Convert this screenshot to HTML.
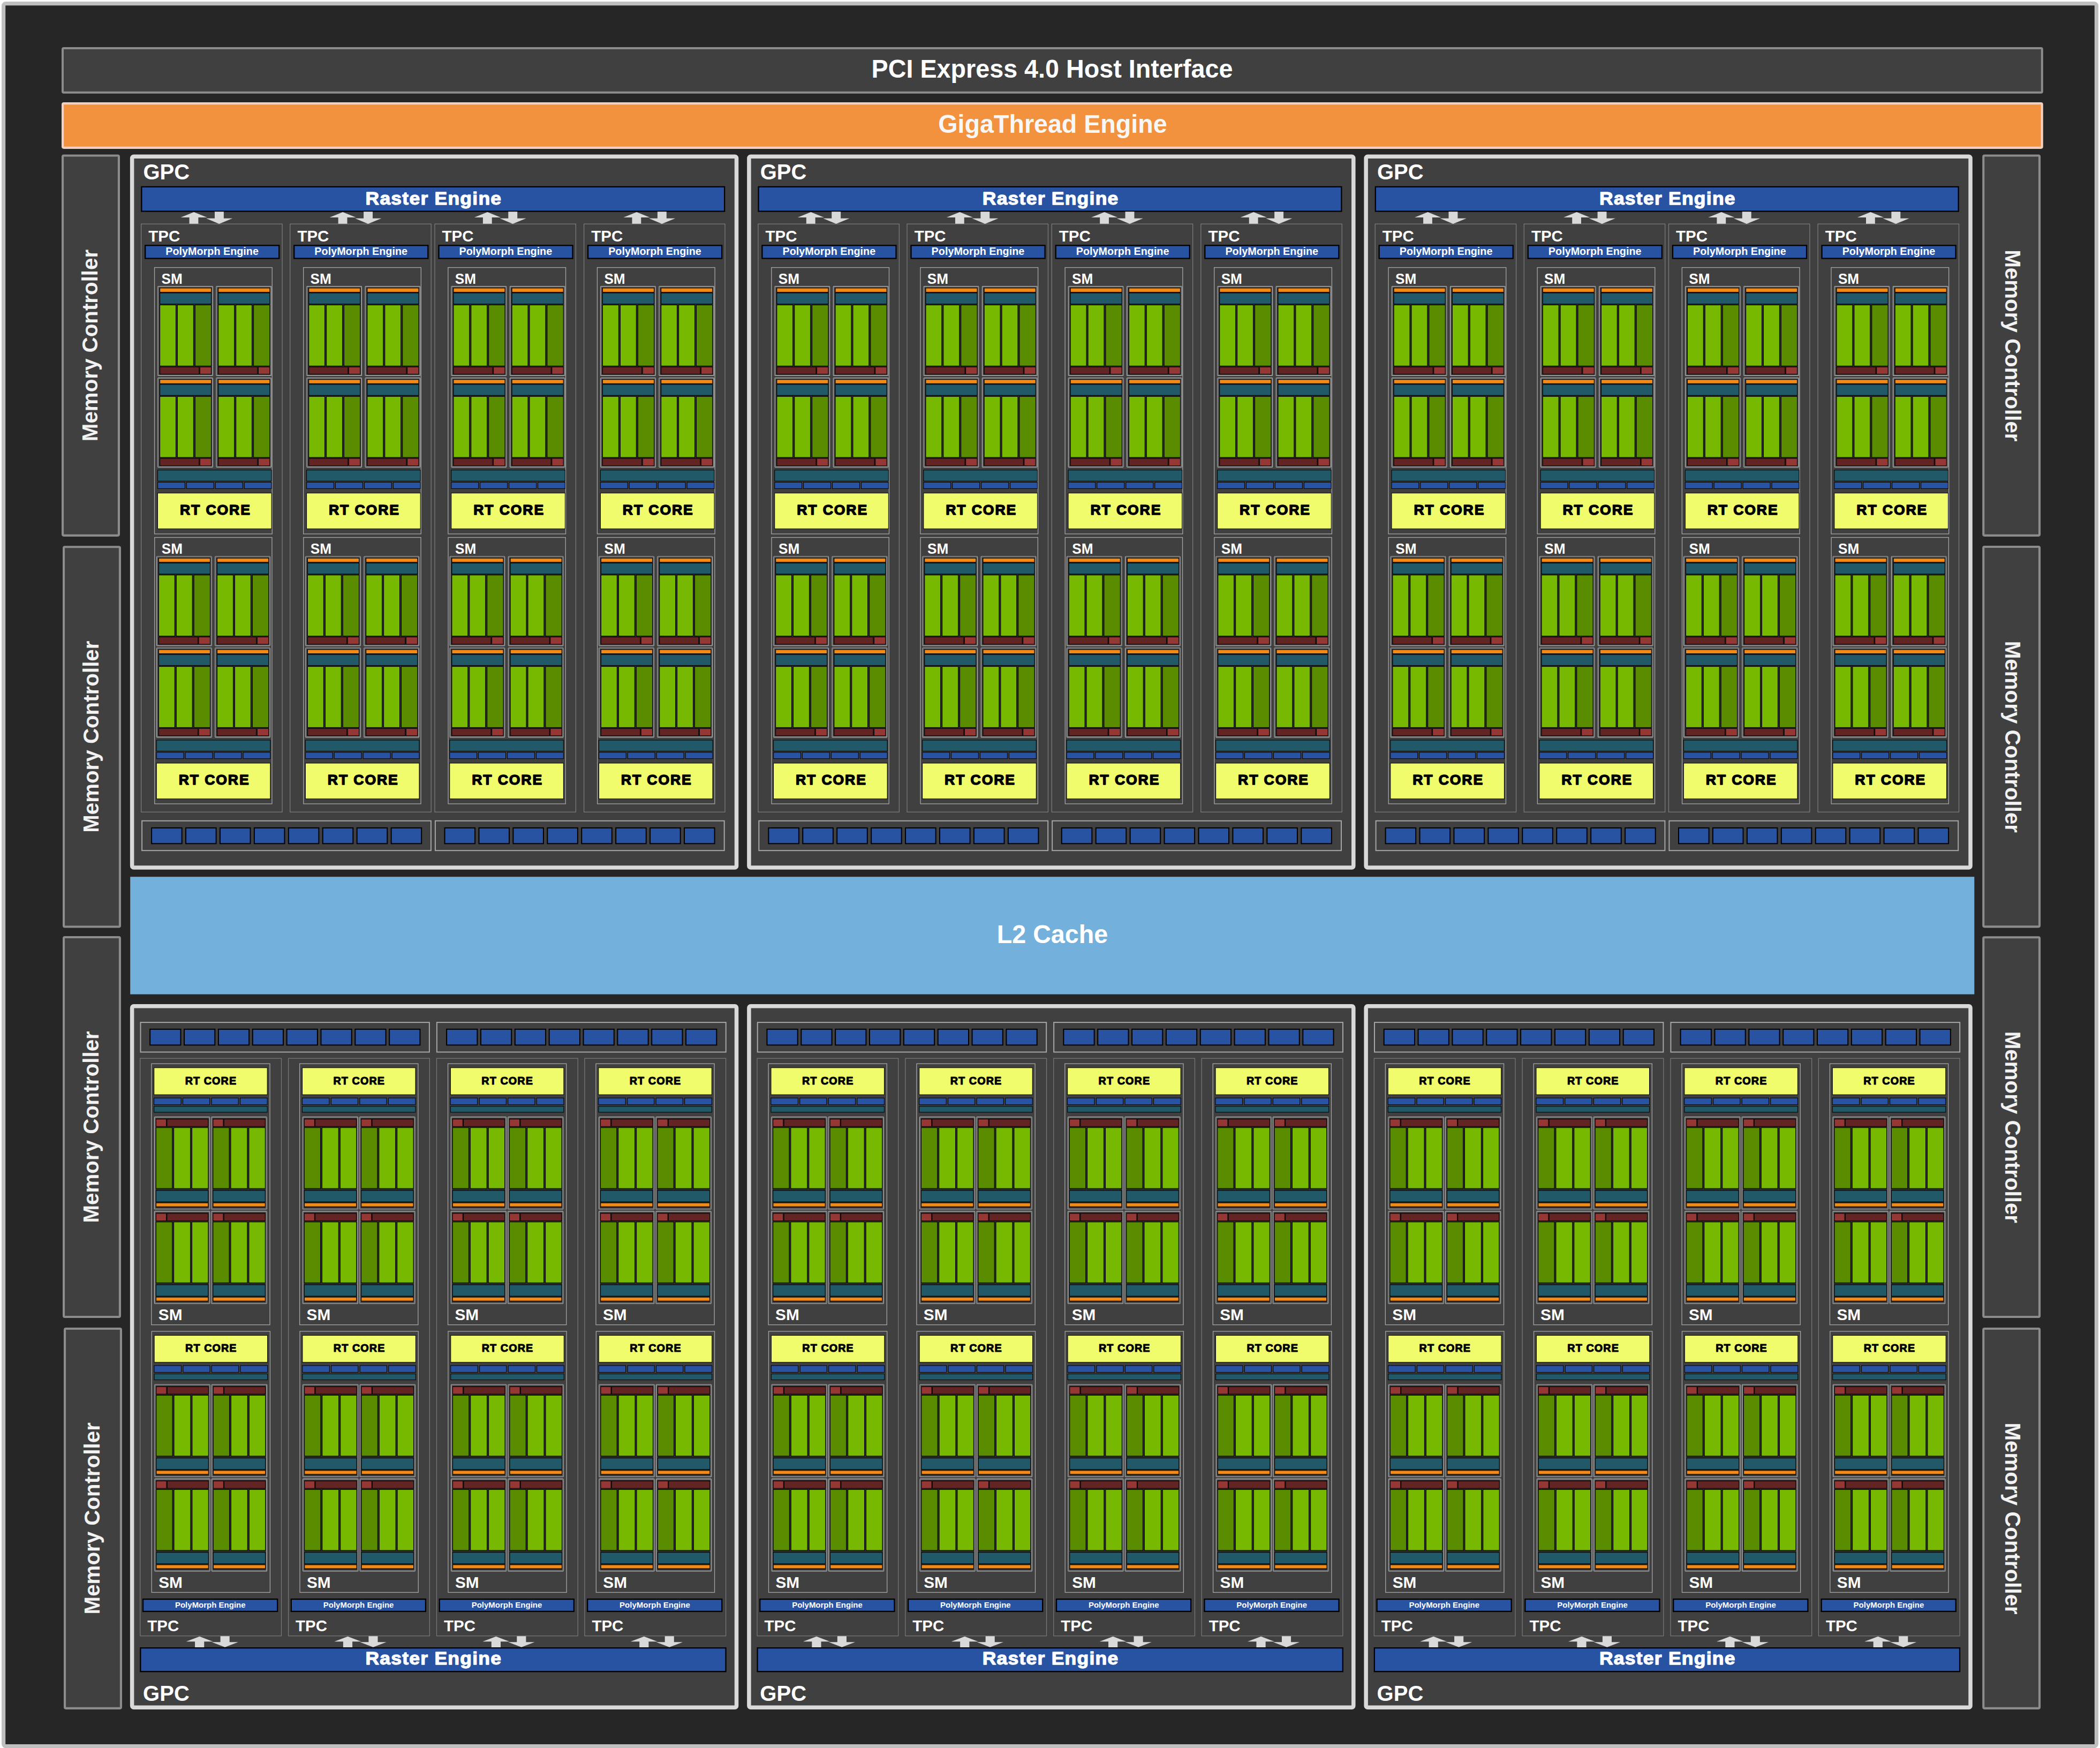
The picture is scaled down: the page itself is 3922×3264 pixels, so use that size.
<!DOCTYPE html>
<html><head><meta charset="utf-8"><title>GPU Block Diagram</title>
<style>html,body{margin:0;padding:0;background:#fff;overflow:hidden}svg{display:block}text{font-family:"Liberation Sans",sans-serif}</style></head>
<body>
<svg width="3922" height="3264" viewBox="0 0 3922 3264" font-family="Liberation Sans, sans-serif">
<defs>
<g id="sbt"><rect x="0.55" y="0.55" width="102.7" height="166.9" fill="#2c2c2c" stroke="#b0b0b0" stroke-width="1.1" rx="1"/><rect x="1.8" y="1.8" width="100.2" height="164.4" fill="none" stroke="#727272" stroke-width="1.4"/><rect x="4.4" y="3.8" width="96.1" height="7.6" fill="#f28a15" stroke="#000" stroke-width="1"/><rect x="4.4" y="13" width="96.1" height="20.4" fill="#215968" stroke="#000" stroke-width="1"/><rect x="4.4" y="35.4" width="29.9" height="113.8" fill="#76b900" stroke="#000" stroke-width="1"/><rect x="37.3" y="35.4" width="29.9" height="113.8" fill="#76b900" stroke="#000" stroke-width="1"/><rect x="70.2" y="35.4" width="30.3" height="113.8" fill="#5a8c00" stroke="#000" stroke-width="1"/><rect x="4.4" y="151.1" width="73.1" height="13.5" fill="#632523" stroke="#000" stroke-width="1"/><rect x="79.1" y="151.1" width="21.4" height="13.5" fill="#953735" stroke="#000" stroke-width="1"/></g>
<g id="sbb"><rect x="0.55" y="0.55" width="103.3" height="172.5" fill="#2c2c2c" stroke="#b0b0b0" stroke-width="1.1" rx="1"/><rect x="1.8" y="1.8" width="100.8" height="170" fill="none" stroke="#727272" stroke-width="1.4"/><rect x="3.55" y="4.7" width="19.15" height="13.7" fill="#953735" stroke="#000" stroke-width="1"/><rect x="24" y="4.7" width="77" height="13.7" fill="#632523" stroke="#000" stroke-width="1"/><rect x="3.55" y="20.7" width="30.25" height="113.5" fill="#5a8c00" stroke="#000" stroke-width="1"/><rect x="36.7" y="20.7" width="30.9" height="113.5" fill="#76b900" stroke="#000" stroke-width="1"/><rect x="70.6" y="20.7" width="30.4" height="113.5" fill="#76b900" stroke="#000" stroke-width="1"/><rect x="3.55" y="137.9" width="97.45" height="21.2" fill="#215968" stroke="#000" stroke-width="1"/><rect x="3.7" y="161.1" width="97.3" height="7.1" fill="#f28a15" stroke="#000" stroke-width="1"/></g>
<g id="smti"><use href="#sbt" x="6.3" y="35.2"/><use href="#sbt" x="115.5" y="35.2"/><use href="#sbt" x="6.3" y="206"/><use href="#sbt" x="115.5" y="206"/><rect x="6.6" y="378.8" width="212.6" height="20.6" fill="#215968" stroke="#000" stroke-width="1"/><rect x="6.6" y="401.6" width="50.8" height="11.9" fill="#2853a3" stroke="#000" stroke-width="1"/><rect x="60.4" y="401.6" width="50.9" height="11.9" fill="#2853a3" stroke="#000" stroke-width="1"/><rect x="114.4" y="401.6" width="50.9" height="11.9" fill="#2853a3" stroke="#000" stroke-width="1"/><rect x="168.4" y="401.6" width="50.8" height="11.9" fill="#2853a3" stroke="#000" stroke-width="1"/><rect x="6.6" y="421.8" width="212.6" height="66.7" fill="#f0fc6c" stroke="#000" stroke-width="1"/><text x="113.5" y="462.3" font-size="26.6" font-weight="bold" fill="#000" text-anchor="middle" stroke="#000" stroke-width="1.5" stroke-linejoin="round" textLength="131" lengthAdjust="spacing">RT CORE</text></g>
<g id="smt1"><rect x="0.65" y="0.65" width="219.7" height="497.4" fill="none" stroke="#a6a6a6" stroke-width="1.3"/><text x="13.6" y="30.8" font-size="27.3" font-weight="bold" fill="#fff" text-anchor="start" textLength="39.3" lengthAdjust="spacingAndGlyphs">SM</text><use href="#smti" x="0" y="0"/></g>
<g id="smt2a"><rect x="0.85" y="0.65" width="219.2" height="497.4" fill="none" stroke="#a6a6a6" stroke-width="1.3"/><text x="13.8" y="30.8" font-size="27.3" font-weight="bold" fill="#fff" text-anchor="start" textLength="39.3" lengthAdjust="spacingAndGlyphs">SM</text><use href="#smti" x="-2.2" y="0.3"/></g>
<g id="smt2b"><rect x="0.85" y="0.65" width="219.2" height="497.4" fill="none" stroke="#a6a6a6" stroke-width="1.3"/><text x="13.8" y="30.8" font-size="27.3" font-weight="bold" fill="#fff" text-anchor="start" textLength="39.3" lengthAdjust="spacingAndGlyphs">SM</text><use href="#smti" x="-3" y="0.3"/></g>
<g id="smb"><rect x="0.65" y="0.65" width="221.2" height="487.5" fill="none" stroke="#a6a6a6" stroke-width="1.3"/><rect x="5.5" y="8.2" width="211.5" height="50.3" fill="#f0fc6c" stroke="#000" stroke-width="1"/><text x="111.2" y="39.1" font-size="19.8" font-weight="bold" fill="#000" text-anchor="middle" stroke="#000" stroke-width="1.1" stroke-linejoin="round" textLength="95.5" lengthAdjust="spacing">RT CORE</text><rect x="5.4" y="64.6" width="50.5" height="12.6" fill="#2853a3" stroke="#000" stroke-width="1"/><rect x="59.4" y="64.6" width="50" height="12.6" fill="#2853a3" stroke="#000" stroke-width="1"/><rect x="112.9" y="64.6" width="50.1" height="12.6" fill="#2853a3" stroke="#000" stroke-width="1"/><rect x="166.4" y="64.6" width="50.6" height="12.6" fill="#2853a3" stroke="#000" stroke-width="1"/><rect x="5.5" y="80.2" width="211.5" height="11.1" fill="#215968" stroke="#000" stroke-width="1"/><use href="#sbb" x="5.7" y="99.4"/><use href="#sbb" x="112.1" y="99.4"/><use href="#sbb" x="5.7" y="275.5"/><use href="#sbb" x="112.1" y="275.5"/><text x="13.6" y="479.4" font-size="29.8" font-weight="bold" fill="#fff" text-anchor="start">SM</text></g>
<g id="arrt"><path d="M99 0.8 L123.6 10.7 L107.3 10.7 L107.3 22.6 L90.5 22.6 L90.5 10.7 L74.4 10.7 Z" fill="#d9d9d9"/><path d="M137.9 0 L154.8 0 L154.8 12.6 L171.2 12.6 L146.2 22.7 L121.9 12.6 L137.9 12.6 Z" fill="#d9d9d9"/></g>
<g id="arrb"><path d="M111.5 0.8 L136.5 10.4 L120.1 10.4 L120.1 22 L102.9 22 L102.9 10.4 L86.4 10.4 Z" fill="#d9d9d9"/><path d="M150.4 0.3 L167.5 0.3 L167.5 11.4 L183.6 11.4 L158.9 20.9 L134.2 11.4 L150.4 11.4 Z" fill="#d9d9d9"/></g>
<g id="tpta"><rect x="0.6" y="0.6" width="263.4" height="1098.1" fill="none" stroke="#7f7f7f" stroke-width="1.2"/><text x="14.2" y="33.8" font-size="30" font-weight="bold" fill="#fff" text-anchor="start" textLength="59" lengthAdjust="spacingAndGlyphs">TPC</text><rect x="8.05" y="40.65" width="250.1" height="24.3" fill="#2853a3" stroke="#000" stroke-width="2.3"/><text x="133" y="58.1" font-size="19.8" font-weight="bold" fill="#fff" text-anchor="middle">PolyMorph Engine</text><use href="#smt1" x="24.8" y="81.3"/><use href="#smt2a" x="24.8" y="585.3"/></g>
<g id="tptb"><rect x="0.6" y="0.6" width="263.4" height="1098.1" fill="none" stroke="#7f7f7f" stroke-width="1.2"/><text x="14.2" y="33.8" font-size="30" font-weight="bold" fill="#fff" text-anchor="start" textLength="59" lengthAdjust="spacingAndGlyphs">TPC</text><rect x="8.05" y="40.65" width="250.1" height="24.3" fill="#2853a3" stroke="#000" stroke-width="2.3"/><text x="133" y="58.1" font-size="19.8" font-weight="bold" fill="#fff" text-anchor="middle">PolyMorph Engine</text><use href="#smt1" x="24.8" y="81.3"/><use href="#smt2b" x="24.8" y="585.3"/></g>
<g id="tpb"><rect x="0.6" y="0.6" width="263.7" height="1078.5" fill="none" stroke="#7a7a7a" stroke-width="1.2"/><use href="#smb" x="21" y="10"/><use href="#smb" x="21.4" y="509.7"/><rect x="5.85" y="1010.45" width="251.1" height="22.9" fill="#2853a3" stroke="#000" stroke-width="2.3"/><text x="131.6" y="1026.7" font-size="15" font-weight="bold" fill="#fff" text-anchor="middle">PolyMorph Engine</text><text x="14.1" y="1070.1" font-size="30" font-weight="bold" fill="#fff" text-anchor="start" textLength="59" lengthAdjust="spacingAndGlyphs">TPC</text></g>
<g id="gpt"><rect x="3.75" y="3.75" width="1128.9" height="1327.8" fill="#404040" stroke="#d9d9d9" stroke-width="7.5" rx="3"/><text x="24.6" y="46.6" font-size="40" font-weight="bold" fill="#fff" text-anchor="start">GPC</text><rect x="21.45" y="60.45" width="1088.8" height="45.7" fill="#2853a3" stroke="#000" stroke-width="2.3"/><text transform="translate(567,93.2) scale(1.076,1)" font-size="33" font-weight="bold" fill="#fff" stroke="#fff" stroke-width="1.25" stroke-linejoin="round" text-anchor="middle" letter-spacing="1.15">Raster Engine</text><use href="#tpta" x="20.2" y="129.2"/><use href="#arrt" x="20.2" y="106.8"/><use href="#tpta" x="298.3" y="129.2"/><use href="#arrt" x="298.3" y="106.8"/><use href="#tptb" x="568.5" y="129.2"/><use href="#arrt" x="568.5" y="106.8"/><use href="#tptb" x="847.1" y="129.2"/><use href="#arrt" x="847.1" y="106.8"/><rect x="22.2" y="1244.3" width="539.8" height="55.5" fill="none" stroke="#a6a6a6" stroke-width="2"/><rect x="40.2" y="1257.5" width="56.6" height="29.4" fill="#2853a3" stroke="#000" stroke-width="2"/><rect x="104.13" y="1257.5" width="56.6" height="29.4" fill="#2853a3" stroke="#000" stroke-width="2"/><rect x="168.06" y="1257.5" width="56.6" height="29.4" fill="#2853a3" stroke="#000" stroke-width="2"/><rect x="231.99" y="1257.5" width="56.6" height="29.4" fill="#2853a3" stroke="#000" stroke-width="2"/><rect x="295.92" y="1257.5" width="56.6" height="29.4" fill="#2853a3" stroke="#000" stroke-width="2"/><rect x="359.85" y="1257.5" width="56.6" height="29.4" fill="#2853a3" stroke="#000" stroke-width="2"/><rect x="423.78" y="1257.5" width="56.6" height="29.4" fill="#2853a3" stroke="#000" stroke-width="2"/><rect x="487.71" y="1257.5" width="56.6" height="29.4" fill="#2853a3" stroke="#000" stroke-width="2"/><rect x="570" y="1244.3" width="539.8" height="55.5" fill="none" stroke="#a6a6a6" stroke-width="2"/><rect x="587.6" y="1257.5" width="56.6" height="29.4" fill="#2853a3" stroke="#000" stroke-width="2"/><rect x="651.53" y="1257.5" width="56.6" height="29.4" fill="#2853a3" stroke="#000" stroke-width="2"/><rect x="715.46" y="1257.5" width="56.6" height="29.4" fill="#2853a3" stroke="#000" stroke-width="2"/><rect x="779.39" y="1257.5" width="56.6" height="29.4" fill="#2853a3" stroke="#000" stroke-width="2"/><rect x="843.32" y="1257.5" width="56.6" height="29.4" fill="#2853a3" stroke="#000" stroke-width="2"/><rect x="907.25" y="1257.5" width="56.6" height="29.4" fill="#2853a3" stroke="#000" stroke-width="2"/><rect x="971.18" y="1257.5" width="56.6" height="29.4" fill="#2853a3" stroke="#000" stroke-width="2"/><rect x="1035.11" y="1257.5" width="56.6" height="29.4" fill="#2853a3" stroke="#000" stroke-width="2"/></g>
<g id="gpb"><rect x="3.75" y="3.75" width="1128.9" height="1309.4" fill="#404040" stroke="#d9d9d9" stroke-width="7.5" rx="3"/><rect x="19.6" y="34.1" width="539.4" height="55.4" fill="none" stroke="#a6a6a6" stroke-width="2"/><rect x="37.3" y="46.8" width="57.3" height="29.6" fill="#2853a3" stroke="#000" stroke-width="2"/><rect x="101.15" y="46.8" width="57.3" height="29.6" fill="#2853a3" stroke="#000" stroke-width="2"/><rect x="165" y="46.8" width="57.3" height="29.6" fill="#2853a3" stroke="#000" stroke-width="2"/><rect x="228.85" y="46.8" width="57.3" height="29.6" fill="#2853a3" stroke="#000" stroke-width="2"/><rect x="292.7" y="46.8" width="57.3" height="29.6" fill="#2853a3" stroke="#000" stroke-width="2"/><rect x="356.55" y="46.8" width="57.3" height="29.6" fill="#2853a3" stroke="#000" stroke-width="2"/><rect x="420.4" y="46.8" width="57.3" height="29.6" fill="#2853a3" stroke="#000" stroke-width="2"/><rect x="484.25" y="46.8" width="57.3" height="29.6" fill="#2853a3" stroke="#000" stroke-width="2"/><rect x="573" y="34.1" width="539.8" height="55.4" fill="none" stroke="#a6a6a6" stroke-width="2"/><rect x="591.2" y="46.8" width="57.3" height="29.6" fill="#2853a3" stroke="#000" stroke-width="2"/><rect x="655.05" y="46.8" width="57.3" height="29.6" fill="#2853a3" stroke="#000" stroke-width="2"/><rect x="718.9" y="46.8" width="57.3" height="29.6" fill="#2853a3" stroke="#000" stroke-width="2"/><rect x="782.75" y="46.8" width="57.3" height="29.6" fill="#2853a3" stroke="#000" stroke-width="2"/><rect x="846.6" y="46.8" width="57.3" height="29.6" fill="#2853a3" stroke="#000" stroke-width="2"/><rect x="910.45" y="46.8" width="57.3" height="29.6" fill="#2853a3" stroke="#000" stroke-width="2"/><rect x="974.3" y="46.8" width="57.3" height="29.6" fill="#2853a3" stroke="#000" stroke-width="2"/><rect x="1038.15" y="46.8" width="57.3" height="29.6" fill="#2853a3" stroke="#000" stroke-width="2"/><use href="#tpb" x="18.3" y="100.6"/><use href="#arrb" x="18.3" y="1179.9"/><use href="#tpb" x="295.1" y="100.6"/><use href="#arrb" x="295.1" y="1179.9"/><use href="#tpb" x="572" y="100.6"/><use href="#arrb" x="572" y="1179.9"/><use href="#tpb" x="848.4" y="100.6"/><use href="#arrb" x="848.4" y="1179.9"/><rect x="19.45" y="1202.15" width="1093.2" height="44.1" fill="#2853a3" stroke="#000" stroke-width="2.3"/><text transform="translate(566.9,1233.1) scale(1.076,1)" font-size="33" font-weight="bold" fill="#fff" stroke="#fff" stroke-width="1.25" stroke-linejoin="round" text-anchor="middle" letter-spacing="1.15">Raster Engine</text><text x="24.2" y="1300.7" font-size="40" font-weight="bold" fill="#fff" text-anchor="start">GPC</text></g>
</defs>
<rect x="0" y="0" width="3922" height="3264" fill="#fff"/>
<rect x="6.6" y="6.6" width="3908.8" height="3254" fill="#262626" stroke="#bfbfbf" stroke-width="7.2" rx="4"/>
<rect x="117" y="90" width="3696.8" height="82.7" fill="#404040" stroke="#8c8c8c" stroke-width="4" rx="2"/>
<text x="1965" y="145.2" font-size="48.6" font-weight="bold" fill="#fff" text-anchor="middle" textLength="674.8" lengthAdjust="spacingAndGlyphs">PCI Express 4.0 Host Interface</text>
<rect x="117.1" y="193.2" width="3696.6" height="82.6" fill="#f2913e" stroke="#f5d0bd" stroke-width="4.2" rx="2"/>
<text x="1966" y="247.8" font-size="48.8" font-weight="bold" fill="#f7f7f7" text-anchor="middle" textLength="427.3" lengthAdjust="spacingAndGlyphs">GigaThread Engine</text>
<rect x="117.05" y="290.55" width="104.9" height="709.3" fill="#404040" stroke="#8c8c8c" stroke-width="4.1" rx="2"/>
<text transform="translate(181.9,645) rotate(-90)" font-size="40.3" font-weight="bold" fill="#f2f2f2" text-anchor="middle">Memory Controller</text>
<rect x="119.05" y="1021.25" width="104.9" height="709.3" fill="#404040" stroke="#8c8c8c" stroke-width="4.1" rx="2"/>
<text transform="translate(183.9,1375.7) rotate(-90)" font-size="40.3" font-weight="bold" fill="#f2f2f2" text-anchor="middle">Memory Controller</text>
<rect x="119.05" y="1750.05" width="104.9" height="709" fill="#404040" stroke="#8c8c8c" stroke-width="4.1" rx="2"/>
<text transform="translate(183.9,2104.35) rotate(-90)" font-size="40.3" font-weight="bold" fill="#f2f2f2" text-anchor="middle">Memory Controller</text>
<rect x="121.05" y="2481.05" width="104.9" height="708.8" fill="#404040" stroke="#8c8c8c" stroke-width="4.1" rx="2"/>
<text transform="translate(185.9,2835.25) rotate(-90)" font-size="40.3" font-weight="bold" fill="#f2f2f2" text-anchor="middle">Memory Controller</text>
<rect x="3704.25" y="290.55" width="104.8" height="709.3" fill="#404040" stroke="#8c8c8c" stroke-width="4.1" rx="2"/>
<text transform="translate(3744.9,645.4) rotate(90)" font-size="40.3" font-weight="bold" fill="#f2f2f2" text-anchor="middle">Memory Controller</text>
<rect x="3704.25" y="1021.05" width="104.8" height="709.3" fill="#404040" stroke="#8c8c8c" stroke-width="4.1" rx="2"/>
<text transform="translate(3744.9,1375.9) rotate(90)" font-size="40.3" font-weight="bold" fill="#f2f2f2" text-anchor="middle">Memory Controller</text>
<rect x="3704.25" y="1750.25" width="104.8" height="708.8" fill="#404040" stroke="#8c8c8c" stroke-width="4.1" rx="2"/>
<text transform="translate(3744.9,2104.85) rotate(90)" font-size="40.3" font-weight="bold" fill="#f2f2f2" text-anchor="middle">Memory Controller</text>
<rect x="3704.25" y="2481.05" width="104.8" height="708.8" fill="#404040" stroke="#8c8c8c" stroke-width="4.1" rx="2"/>
<text transform="translate(3744.9,2835.65) rotate(90)" font-size="40.3" font-weight="bold" fill="#f2f2f2" text-anchor="middle">Memory Controller</text>
<use href="#gpt" x="242.9" y="288.4"/>
<use href="#gpb" x="242.9" y="1875"/>
<use href="#gpt" x="1395.15" y="288.4"/>
<use href="#gpb" x="1395.15" y="1875"/>
<use href="#gpt" x="2547.4" y="288.4"/>
<use href="#gpb" x="2547.4" y="1875"/>
<rect x="243.2" y="1637.2" width="3444.1" height="219.4" fill="#73b1dc"/>
<text x="1965.5" y="1761.4" font-size="49" font-weight="bold" fill="#fff" text-anchor="middle" textLength="207.6" lengthAdjust="spacingAndGlyphs">L2 Cache</text>
</svg>
</body></html>
